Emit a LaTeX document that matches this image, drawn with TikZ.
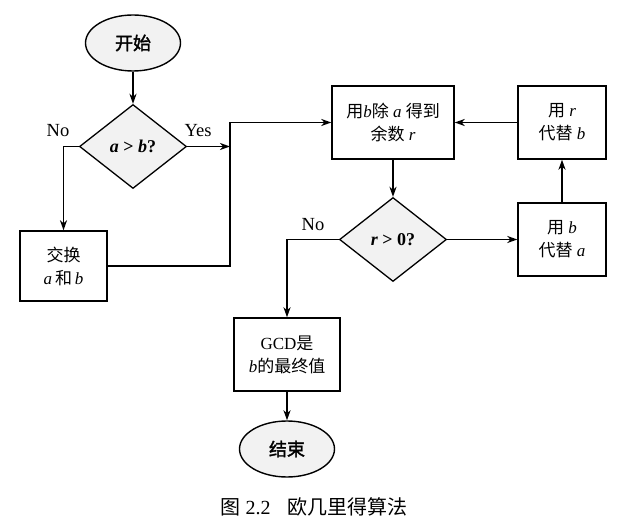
\documentclass[tikz,border=0pt]{standalone}
\usepackage{fontspec}
\setmainfont{Liberation Serif}
\newfontfamily\cjk{Noto Sans CJK SC}
\newfontfamily\cjkb[FakeBold=2]{Noto Sans CJK SC}
\usetikzlibrary{shapes.geometric,arrows.meta}
\newcommand\zh[1]{{\cjk #1}}
\tikzset{
  txt/.style={font=\fontsize{17pt}{23pt}\selectfont},
  term/.style={ellipse, draw, line width=1.4pt, fill=black!5, minimum width=95pt, minimum height=56pt, inner sep=0pt, font=\fontsize{18pt}{20pt}\selectfont\cjkb},
  dec/.style={diamond, draw, line width=1.3pt, fill=black!5, minimum width=107pt, minimum height=84pt, inner sep=0pt, font=\fontsize{18pt}{20pt}\selectfont\bfseries},
  procbox/.style={rectangle, draw, line width=1.4pt, align=center, inner sep=0pt, txt},
  conn/.style={line width=1.8pt, -{Stealth[length=10pt,width=7pt,inset=3pt]}},
  lbl/.style={font=\fontsize{18.5pt}{20pt}\selectfont, inner sep=0pt},
}
\begin{document}
\begin{tikzpicture}[x=1pt,y=-1pt]
\useasboundingbox (0,0) rectangle (629,529);
% nodes
\node[term] (start) at (133,43) {开始};
\node[dec] (d1) at (133,146.5) {\textit{a} > \textit{b}?};
\node[procbox, minimum width=87pt, minimum height=70pt] (swap) at (63.5,266) {\zh{交换}\\\textit{a}\,\zh{和}\,\textit{b}};
\node[procbox, minimum width=122pt, minimum height=73pt] (div) at (393,122.5) {\zh{用}\textit{b}\zh{除} \textit{a} \zh{得到}\\\zh{余数} \textit{r}};
\node[procbox, minimum width=88pt, minimum height=73pt] (repb) at (562,122.5) {\zh{用} \textit{r}\\\zh{代替} \textit{b}};
\node[procbox, minimum width=88pt, minimum height=73pt] (repa) at (562,239.5) {\zh{用} \textit{b}\\\zh{代替} \textit{a}};
\node[dec] (d2) at (393,239.5) {\textit{r} > 0?};
\node[procbox, minimum width=106pt, minimum height=73pt] (gcd) at (287,354.5) {GCD\zh{是}\\\textit{b}\zh{的最终值}};
\node[term] (end) at (287,449) {结束};
% labels
\node[lbl] (no1) at (58,131) {No};
\node[lbl] (yes1) at (198,131) {Yes};
\node[lbl] (no2) at (313,225) {No};
\node[font=\fontsize{20pt}{22pt}\selectfont, inner sep=0pt] (cap) at (314,507) {\zh{图} 2.2\hspace{17pt}\zh{欧几里得算法}};
% junctions
\coordinate (j) at (230,146.5);
\coordinate (jt) at (230,122.5);
% connectors
\draw[conn] (start) -- (d1);
\draw[conn] (d1.east) -- (j);
\draw[conn] (d1.west) -| (swap.north);
\draw[conn] (swap.east) -| (jt) -- (div.west);
\draw[conn] (div.south) -- (d2.north);
\draw[conn] (d2.east) -- (repa.west);
\draw[conn] (repa.north) -- (repb.south);
\draw[conn] (repb.west) -- (div.east);
\draw[conn] (d2.west) -| (gcd.north);
\draw[conn] (gcd.south) -- (end.north);
\end{tikzpicture}
\end{document}
